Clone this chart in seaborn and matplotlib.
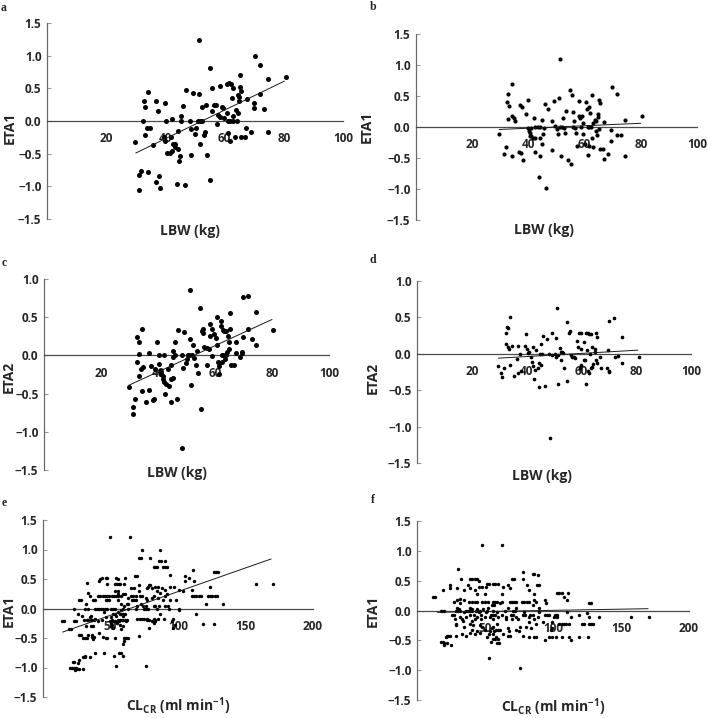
import matplotlib.pyplot as plt
import seaborn as sns
import pandas as pd

# (LBW kg, ETA1) - panel a, base model
a_points = [(29.6,-0.32),(31.2,-0.82),(31.9,-0.77),(31.0,-1.05),(32.8,0.30),(33.0,0.22),(32.5,0.0),(33.2,-0.22),
            (34.1,0.45),(33.7,-0.10),(34.7,-0.10),(34.2,-0.78),(35.8,-0.36),(36.8,0.31),(37.5,0.16),(36.8,-0.93),
            (37.7,-0.84),(38.3,-1.02),(39.8,0.28),(40.2,0.0),(39.4,-0.25),(40.0,-0.30),(40.7,-0.49),(41.6,-0.49),
            (42.1,-0.46),(42.0,-0.25),(42.3,0.03),(42.6,-0.35),(43.2,-0.35),(43.4,-0.40),(44.3,-0.43),(44.7,-0.61),
            (45.0,-0.53),(43.8,-0.97),(44.3,-0.15),(45.4,0.07),(45.4,0.0),(46.0,0.23),(46.9,0.47),(46.6,-0.98),
            (48.3,0.0),(48.6,-0.12),(48.6,-0.52),(49.2,0.43),(49.9,-0.20),(50.4,-0.11),(51.0,0.0),(51.7,0.0),
            (52.4,0.0),(51.3,0.41),(51.5,1.24),(51.6,-0.35),(52.2,0.21),(52.9,-0.22),(53.3,-0.17),(53.6,0.25),
            (54.1,-0.52),(55.0,0.81),(55.1,-0.90),(55.8,0.50),(55.9,0.16),(56.4,0.25),(57.2,0.24),(57.3,-0.05),
            (57.8,0.09),(58.5,0.06),(58.3,0.53),(59.0,0.22),(59.5,0.20),(59.7,0.04),(60.8,0.57),(61.5,0.58),
            (62.1,0.56),(60.9,0.12),(61.0,0.0),(61.9,0.0),(62.7,0.0),(64.1,0.0),(61.1,-0.18),(61.7,-0.30),
            (62.9,0.51),(62.4,0.35),(62.8,0.08),(63.5,-0.24),(63.9,0.17),(64.4,0.13),(64.6,0.40),(64.8,0.36),
            (65.2,0.52),(64.9,0.31),(65.2,0.71),(65.6,0.46),(65.5,-0.24),(66.9,-0.24),(67.2,-0.11),(67.5,0.33),
            (68.9,-0.17),(69.8,0.27),(69.9,0.20),(70.3,1.0),(71.9,0.86),(72.0,0.41),(73.3,0.18),(74.6,0.64),
            (74.6,-0.17),(80.7,0.67)]
a_fit = [(30.0,-0.49),(80.2,0.61)]

# (LBW kg, ETA1) - panel b, final model
b_points = [(29.6,-0.12),(31.2,-0.44),(32.0,-0.33),(32.7,0.53),(32.4,0.40),(33.1,0.34),(32.9,0.13),(34.2,0.69),
            (34.0,0.17),(34.7,0.15),(35.4,0.09),(34.3,-0.46),(36.5,-0.41),(36.9,0.35),(37.6,0.33),(37.5,-0.42),
            (38.2,-0.54),(39.0,0.21),(39.7,0.43),(40.0,-0.01),(40.3,-0.06),(40.6,-0.09),(40.8,-0.02),(40.4,-0.14),
            (41.0,-0.14),(41.6,-0.17),(42.0,0.15),(42.3,-0.17),(42.3,-0.40),(42.5,0.0),(43.4,0.0),(44.0,0.0),
            (43.7,-0.81),(44.2,-0.18),(44.3,-0.47),(44.8,0.11),(45.0,-0.27),(45.2,-0.12),(45.7,-0.01),(46.0,0.37),
            (46.8,0.29),(46.4,-0.99),(48.4,0.10),(48.4,-0.37),(49.0,0.42),(49.6,0.01),(50.0,-0.04),(50.7,-0.11),
            (51.0,0.46),(51.1,0.0),(51.8,0.0),(51.3,1.09),(51.5,-0.46),(52.4,0.15),(52.5,-0.02),(52.9,-0.09),
            (53.4,0.26),(54.1,-0.54),(54.7,0.60),(55.0,-0.59),(55.4,0.51),(55.7,0.25),(55.9,0.0),(56.1,0.09),
            (56.7,-0.02),(57.0,-0.10),(57.3,-0.31),(57.9,0.18),(58.2,0.15),(58.1,0.42),(58.6,0.0),(59.0,0.18),
            (59.3,0.06),(59.6,-0.11),(60.2,-0.27),(60.4,0.41),(60.8,0.29),(61.2,0.0),(61.6,0.0),(62.2,0.0),
            (61.3,-0.45),(61.5,-0.31),(61.7,0.33),(62.0,0.23),(62.6,0.51),(62.6,-0.17),(63.0,-0.33),(63.1,0.06),
            (63.7,0.12),(64.0,0.09),(64.0,-0.06),(64.5,-0.13),(64.9,0.21),(64.9,0.16),(65.2,0.44),(65.4,0.38),
            (65.2,-0.04),(65.4,-0.36),(66.6,-0.35),(66.8,0.08),(66.9,-0.51),(68.5,-0.44),(69.4,-0.05),(69.4,-0.22),
            (69.8,0.64),(71.4,0.53),(71.7,-0.13),(73.0,-0.13),(74.2,0.12),(74.4,-0.46),(80.3,0.17)]
b_fit = [(29.6,-0.04),(80.0,0.06)]

# (LBW kg, ETA2) - panel c, base model
c_points = [(29.8,-0.42),(31.2,-0.77),(31.4,-0.67),(32.1,-0.57),(32.6,-0.08),(32.8,0.24),(33.2,0.17),(33.4,0.02),
            (33.5,-0.27),(34.0,-0.18),(34.3,0.35),(34.5,-0.47),(34.9,-0.15),(35.8,-0.61),(36.9,0.03),(37.0,-0.45),
            (37.7,-0.14),(38.1,-0.59),(38.6,-0.57),(38.9,-0.18),(39.8,0.18),(40.3,0.0),(40.2,-0.11),(40.7,-0.21),
            (41.2,-0.24),(41.6,-0.27),(42.0,0.0),(41.7,-0.31),(42.1,-0.35),(42.5,-0.50),(42.7,-0.38),(43.5,-0.18),
            (44.0,-0.40),(44.5,-0.12),(44.5,-0.61),(44.7,-0.31),(45.3,-0.30),(45.2,0.06),(45.4,-0.02),(45.9,0.0),
            (46.0,0.18),(46.7,-0.57),(47.0,0.33),(48.4,0.0),(48.8,-0.16),(49.0,0.31),(48.5,-1.21),(49.8,-0.10),
            (50.3,-0.05),(51.0,0.0),(50.6,0.01),(51.2,0.21),(51.4,0.86),(51.7,-0.39),(52.1,0.0),(52.4,0.13),
            (52.6,-0.04),(53.2,-0.12),(53.6,0.06),(54.0,-0.23),(54.9,0.62),(55.0,-0.70),(55.4,0.32),(55.8,0.35),
            (55.8,0.29),(56.2,0.11),(57.1,-0.12),(57.1,0.10),(57.8,0.08),(58.2,0.25),(58.2,0.41),(58.9,0.34),
            (59.0,-0.01),(59.6,0.28),(60.2,0.23),(60.8,0.50),(60.8,0.13),(61.0,-0.09),(61.5,-0.10),(61.4,-0.14),
            (61.5,-0.24),(62.0,0.45),(62.0,0.39),(62.4,0.0),(62.9,0.0),(62.6,-0.09),(62.9,0.33),(63.3,0.32),
            (63.4,-0.05),(63.8,0.01),(64.3,0.04),(64.0,0.32),(64.5,0.25),(64.8,0.08),(64.8,0.18),(65.3,0.55),
            (65.3,0.35),(65.5,-0.13),(66.6,-0.12),(67.2,0.03),(67.2,0.17),(68.7,-0.02),(69.4,0.05),(69.5,0.03),
            (69.7,0.24),(69.9,0.76),(71.5,0.78),(71.7,0.34),(73.1,0.22),(74.3,0.57),(74.5,0.14),(80.4,0.33)]
c_fit = [(29.8,-0.39),(80.0,0.47)]

# (LBW kg, ETA2) - panel d, final model
d_points = [(29.7,-0.17),(30.8,-0.27),(31.0,-0.32),(31.9,-0.19),(32.6,0.29),(32.8,0.37),(33.3,0.35),(32.3,0.13),
            (33.2,0.09),(33.6,0.07),(33.8,-0.16),(34.1,0.50),(34.8,0.11),(35.5,-0.31),(36.6,-0.07),(36.8,0.11),
            (37.0,-0.27),(37.6,0.0),(38.0,-0.23),(39.3,0.11),(39.8,0.27),(40.3,0.07),(40.6,0.01),(41.0,0.02),
            (41.6,-0.04),(42.0,-0.11),(42.5,-0.17),(42.4,0.09),(42.7,-0.35),(43.1,-0.22),(43.6,0.05),(44.0,-0.20),
            (44.4,-0.46),(44.8,0.0),(44.6,-0.13),(45.1,0.14),(45.1,-0.15),(45.7,0.0),(46.1,0.24),(46.8,-0.44),
            (47.3,0.20),(48.3,0.0),(48.7,-1.15),(49.2,0.29),(49.4,-0.02),(50.4,0.0),(50.9,-0.04),(51.4,-0.02),
            (50.7,0.22),(51.1,0.63),(51.4,-0.41),(52.1,0.08),(52.4,0.02),(53.0,0.03),(53.4,0.01),(52.4,-0.09),
            (53.6,-0.19),(54.6,0.44),(54.8,-0.37),(55.5,0.28),(55.8,0.31),(56.1,-0.02),(56.7,-0.05),(57.3,-0.05),
            (57.8,-0.06),(58.5,0.18),(59.0,0.28),(59.7,0.28),(58.9,0.10),(59.4,-0.19),(59.9,0.07),(60.0,-0.15),
            (60.8,-0.08),(61.0,0.16),(61.5,0.29),(61.4,-0.08),(61.6,-0.41),(62.0,0.05),(62.4,-0.23),(62.7,-0.27),
            (62.4,0.29),(62.8,0.27),(63.1,0.0),(63.6,0.27),(63.4,-0.19),(64.0,-0.18),(64.0,0.10),(64.4,-0.14),
            (64.9,0.03),(65.1,0.07),(65.2,-0.09),(65.8,-0.12),(65.2,0.29),(65.7,0.23),(66.9,-0.05),(67.3,-0.20),
            (69.3,-0.20),(69.9,-0.23),(69.8,0.05),(70.0,-0.25),(70.2,0.45),(71.8,0.49),(72.1,-0.05),(73.4,-0.03),
            (74.7,0.23),(75.0,-0.13),(81.0,-0.05)]
d_fit = [(29.7,-0.06),(80.6,0.05)]

# (CLcr ml/min, ETA1) - panel e, base model
e_points = [(49.4,1.22),(64.6,1.22),(73.0,1.0),(86.3,1.0),(71.1,0.85),(72.3,0.85),(79.0,0.85),(86.0,0.80),
            (87.5,0.80),(90.6,0.80),(82.0,0.70),(83.0,0.70),(84.3,0.70),(89.0,0.70),(90.6,0.70),(92.0,0.70),
            (111.0,0.66),(127.0,0.62),(128.3,0.62),(129.6,0.62),(94.0,0.57),(68.0,0.55),(69.4,0.55),(105.5,0.55),
            (44.0,0.52),(46.3,0.52),(47.5,0.52),(54.0,0.52),(60.7,0.52),(108.4,0.52),(42.2,0.50),(55.4,0.50),
            (41.4,0.47),(105.5,0.47),(112.0,0.47),(32.5,0.44),(47.7,0.42),(53.0,0.42),(54.5,0.42),(56.0,0.42),
            (57.3,0.42),(60.2,0.42),(157.6,0.42),(170.6,0.42),(71.0,0.40),(78.3,0.40),(79.5,0.40),(85.0,0.37),
            (94.0,0.37),(77.6,0.37),(83.0,0.37),(97.0,0.37),(124.0,0.37),(65.0,0.35),(67.5,0.35),(76.9,0.35),
            (80.7,0.35),(88.0,0.35),(90.4,0.32),(101.0,0.32),(110.4,0.32),(53.0,0.30),(55.4,0.30),(71.0,0.30),
            (84.3,0.30),(103.6,0.30),(33.0,0.27),(86.7,0.27),(55.4,0.25),(59.0,0.25),(61.0,0.25),(91.6,0.25),
            (34.5,0.22),(40.8,0.21),(42.4,0.21),(44.1,0.21),(45.8,0.21),(47.5,0.21),(49.2,0.21),(50.9,0.21),
            (52.5,0.21),(54.2,0.21),(55.9,0.21),(57.6,0.21),(65.0,0.21),(67.0,0.21),(69.0,0.21),(71.5,0.21),
            (73.0,0.21),(82.0,0.21),(90.6,0.21),(110.4,0.21),(112.0,0.21),(113.3,0.21),(115.7,0.21),(117.0,0.21),
            (122.0,0.21),(123.4,0.21),(125.3,0.21),(127.7,0.21),(129.0,0.21),(62.7,0.17),(76.4,0.17),(80.7,0.17),
            (85.5,0.17),(26.5,0.14),(28.0,0.14),(37.1,0.14),(38.6,0.14),(46.3,0.14),(47.6,0.14),(49.0,0.14),
            (55.4,0.14),(65.8,0.14),(67.5,0.14),(69.0,0.14),(77.1,0.14),(89.2,0.14),(94.0,0.14),(98.8,0.14),
            (32.0,0.08),(57.8,0.08),(61.9,0.08),(63.0,0.08),(72.3,0.08),(120.5,0.08),(133.7,0.08),(59.8,0.04),
            (69.4,0.04),(74.2,0.04),(76.4,0.04),(82.0,0.04),(83.0,0.04),(86.0,0.04),(90.0,0.04),(92.8,0.04),
            (23.0,0.0),(31.3,0.0),(33.0,0.0),(38.6,0.0),(40.0,0.0),(41.5,0.0),(43.0,0.0),(44.4,0.0),
            (45.8,0.0),(47.3,0.0),(50.1,0.0),(51.6,0.0),(53.0,0.0),(59.0,0.0),(63.0,0.0),(68.7,0.0),
            (74.7,0.0),(76.1,0.0),(77.6,0.0),(84.8,0.0),(93.0,0.0),(101.0,0.0),(57.8,-0.03),(101.0,-0.03),
            (45.3,-0.06),(55.4,-0.06),(26.0,-0.10),(51.8,-0.10),(53.0,-0.10),(56.9,-0.10),(57.8,-0.10),(59.0,-0.10),
            (60.7,-0.10),(86.3,-0.10),(113.3,-0.10),(28.9,-0.13),(35.7,-0.13),(54.2,-0.13),(59.0,-0.13),(34.7,-0.15),
            (46.3,-0.15),(50.0,-0.15),(38.6,-0.18),(69.9,-0.18),(71.6,-0.18),(73.3,-0.18),(74.7,-0.18),(77.1,-0.18),
            (82.0,-0.18),(85.5,-0.18),(89.9,-0.18),(96.4,-0.18),(30.6,-0.20),(32.3,-0.20),(33.7,-0.20),(35.2,-0.20),
            (36.6,-0.20),(38.1,-0.20),(43.4,-0.20),(51.3,-0.20),(55.4,-0.20),(56.8,-0.20),(58.2,-0.20),(59.6,-0.20),
            (61.0,-0.20),(62.5,-0.20),(77.1,-0.20),(78.8,-0.20),(82.9,-0.20),(14.0,-0.22),(15.4,-0.22),(23.0,-0.22),
            (24.6,-0.22),(41.0,-0.22),(49.4,-0.22),(51.8,-0.22),(53.0,-0.22),(56.6,-0.22),(61.4,-0.22),(80.7,-0.22),
            (83.1,-0.22),(95.2,-0.22),(118.8,-0.27),(127.0,-0.27),(50.1,-0.25),(55.0,-0.25),(82.0,-0.25),(51.0,-0.28),
            (57.3,-0.28),(97.6,-0.28),(31.6,-0.30),(35.2,-0.30),(37.3,-0.30),(50.0,-0.30),(59.0,-0.30),(51.8,-0.33),
            (96.4,-0.33),(78.3,-0.33),(19.3,-0.35),(20.7,-0.35),(57.8,-0.35),(41.4,-0.42),(27.0,-0.45),(28.4,-0.45),
            (33.7,-0.45),(36.6,-0.45),(71.3,-0.47),(36.1,-0.48),(38.1,-0.48),(44.8,-0.48),(29.4,-0.50),(30.8,-0.50),
            (32.3,-0.50),(46.3,-0.50),(47.7,-0.50),(53.7,-0.50),(59.8,-0.50),(61.2,-0.50),(62.7,-0.50),(36.9,-0.52),
            (60.2,-0.55),(59.3,-0.60),(38.6,-0.76),(45.3,-0.76),(56.6,-0.76),(57.8,-0.76),(31.3,-0.80),(52.5,-0.80),
            (59.3,-0.80),(29.6,-0.83),(31.3,-0.83),(34.7,-0.83),(27.0,-0.88),(21.9,-0.90),(23.1,-0.90),(25.9,-0.92),
            (54.2,-0.97),(76.6,-0.97),(20.0,-1.0),(21.2,-1.0),(22.7,-1.0),(24.1,-1.0),(25.3,-1.02),(26.5,-1.02),
            (29.4,-1.02),(24.0,-1.04)]
e_fit = [(14.5,-0.40),(169.0,0.84)]

# (CLcr ml/min, ETA1) - panel f, final model
f_points = [(47.6,1.09),(62.8,1.09),(29.9,0.69),(78.3,0.64),(85.1,0.62),(86.3,0.62),(88.7,0.60),(32.3,0.53),
            (39.1,0.53),(40.6,0.53),(43.0,0.53),(44.4,0.53),(69.6,0.53),(71.0,0.53),(77.8,0.53),(45.9,0.50),
            (51.2,0.44),(52.9,0.44),(56.0,0.44),(57.5,0.44),(59.9,0.44),(23.9,0.42),(37.4,0.42),(67.2,0.42),
            (81.2,0.42),(88.3,0.42),(89.5,0.42),(45.9,0.40),(47.6,0.40),(50.5,0.40),(63.3,0.40),(24.1,0.37),
            (29.4,0.37),(39.1,0.37),(68.2,0.37),(19.3,0.35),(34.3,0.35),(42.5,0.35),(82.7,0.35),(103.0,0.30),
            (104.5,0.30),(106.9,0.30),(110.8,0.30),(43.9,0.27),(49.8,0.27),(62.3,0.27),(86.3,0.27),(12.0,0.22),
            (13.0,0.22),(107.9,0.22),(31.8,0.20),(29.4,0.17),(34.3,0.17),(86.3,0.17),(94.3,0.17),(110.5,0.17),
            (27.5,0.15),(38.6,0.15),(40.1,0.15),(42.5,0.15),(43.9,0.15),(47.6,0.15),(50.0,0.15),(52.4,0.15),
            (56.0,0.15),(57.5,0.15),(59.0,0.15),(62.3,0.15),(68.2,0.15),(69.6,0.15),(71.0,0.15),(72.5,0.15),
            (77.4,0.15),(79.0,0.15),(80.7,0.15),(82.2,0.15),(87.5,0.15),(31.8,0.12),(60.9,0.12),(94.8,0.12),
            (126.8,0.12),(128.2,0.12),(54.8,0.10),(56.5,0.10),(85.1,0.10),(29.4,0.05),(39.1,0.05),(52.4,0.05),
            (67.0,0.05),(73.0,0.05),(90.0,0.05),(30.6,0.02),(40.3,0.02),(43.9,0.02),(48.8,0.02),(17.3,0.0),
            (18.5,0.0),(20.2,0.0),(28.5,0.0),(29.9,0.0),(31.4,0.0),(36.2,0.0),(37.7,0.0),(39.1,0.0),
            (40.6,0.0),(43.5,0.0),(44.9,0.0),(46.4,0.0),(51.2,0.0),(56.0,0.0),(64.5,0.0),(70.6,0.0),
            (72.0,0.0),(34.3,-0.03),(45.4,-0.03),(50.7,-0.03),(58.5,-0.03),(79.0,-0.03),(90.0,-0.03),(110.5,-0.03),
            (125.0,-0.05),(25.8,-0.08),(27.5,-0.08),(39.1,-0.08),(42.0,-0.08),(47.3,-0.08),(54.6,-0.08),(56.0,-0.08),
            (57.5,-0.08),(62.3,-0.08),(69.4,-0.08),(70.8,-0.08),(77.8,-0.08),(79.3,-0.08),(83.4,-0.08),(85.1,-0.08),
            (93.8,-0.08),(95.3,-0.08),(96.7,-0.08),(101.3,-0.08),(102.8,-0.08),(119.0,-0.08),(31.8,-0.11),(35.7,-0.11),
            (43.9,-0.11),(50.0,-0.11),(53.6,-0.11),(59.7,-0.11),(65.7,-0.11),(73.0,-0.11),(82.7,-0.11),(88.7,-0.11),
            (100.6,-0.11),(102.8,-0.11),(113.0,-0.11),(126.3,-0.11),(134.0,-0.11),(157.3,-0.11),(170.8,-0.11),(27.7,-0.15),
            (33.3,-0.15),(42.5,-0.15),(46.9,-0.15),(55.6,-0.15),(65.3,-0.15),(70.1,-0.15),(74.2,-0.15),(86.3,-0.15),
            (33.8,-0.17),(40.3,-0.17),(82.2,-0.20),(92.4,-0.20),(99.6,-0.20),(28.9,-0.22),(39.1,-0.22),(58.5,-0.22),
            (87.5,-0.22),(104.2,-0.22),(106.4,-0.22),(108.1,-0.22),(109.8,-0.22),(111.7,-0.22),(121.4,-0.22),(122.9,-0.22),
            (126.8,-0.22),(128.2,-0.22),(129.7,-0.22),(28.5,-0.25),(41.5,-0.25),(46.4,-0.25),(34.7,-0.27),(47.8,-0.27),
            (56.0,-0.27),(75.4,-0.27),(80.3,-0.27),(54.8,-0.30),(67.0,-0.30),(83.9,-0.30),(99.6,-0.30),(40.3,-0.33),
            (49.8,-0.33),(58.0,-0.33),(59.4,-0.33),(60.9,-0.33),(73.0,-0.33),(98.4,-0.33),(43.9,-0.35),(53.6,-0.35),
            (56.8,-0.35),(67.7,-0.35),(75.0,-0.35),(39.1,-0.37),(46.4,-0.37),(33.3,-0.40),(42.7,-0.40),(52.7,-0.40),
            (55.8,-0.40),(63.3,-0.40),(21.7,-0.42),(23.1,-0.42),(24.6,-0.42),(28.9,-0.42),(36.2,-0.42),(67.0,-0.42),
            (68.6,-0.42),(77.8,-0.42),(21.0,-0.44),(51.2,-0.44),(58.0,-0.44),(82.7,-0.44),(86.1,-0.45),(87.5,-0.45),
            (96.7,-0.45),(99.6,-0.45),(102.0,-0.45),(106.9,-0.45),(111.7,-0.45),(119.0,-0.45),(125.5,-0.45),(56.0,-0.48),
            (57.5,-0.48),(59.7,-0.48),(94.3,-0.50),(113.0,-0.50),(17.3,-0.52),(18.8,-0.52),(54.6,-0.52),(59.0,-0.54),
            (60.4,-0.54),(20.2,-0.55),(21.7,-0.55),(19.7,-0.57),(25.1,-0.57),(52.7,-0.80),(75.4,-0.97)]
f_fit = [(14.9,-0.03),(169.9,0.03)]

lbw_ticks = [20, 40, 60, 80, 100]
clcr_ticks = [50, 100, 150, 200]
eta_ticks_wide = [-1.5, -1.0, -0.5, 0.0, 0.5, 1.0, 1.5]
eta_ticks_narrow = [-1.5, -1.0, -0.5, 0.0, 0.5, 1.0]

sns.set_theme(style="white")
plt.rcParams['font.family'] = ['Open Sans', 'DejaVu Sans']
plt.rcParams['mathtext.fontset'] = 'custom'
plt.rcParams['mathtext.rm'] = 'Open Sans:bold'

W, H = 708, 718
fig = plt.figure(figsize=(W / 100, H / 100), dpi=100)
fig.patch.set_facecolor('white')

clcr_label = r'CL$_{\mathrm{CR}}$ (ml min$^{\mathrm{-1}}$)'

# pixel boxes: left, right, top, bottom ; label positions in axes fraction
panels = [
    dict(tag='a', pts=a_points, fit=a_fit, box=(47, 343, 23, 219), xmax=100, xt=lbw_ticks, yt=eta_ticks_wide,
         xl='LBW (kg)', yl='ETA1', s=13, xlpos=(0.483, -0.025), ylpos=(-0.103, 0.464), tagpos=(4, 8)),
    dict(tag='b', pts=b_points, fit=b_fit, box=(416, 697, 34, 220), xmax=100, xt=lbw_ticks, yt=eta_ticks_wide,
         xl='LBW (kg)', yl='ETA1', s=9, xlpos=(0.455, -0.015), ylpos=(-0.15, 0.5), tagpos=(373, 7)),
    dict(tag='c', pts=c_points, fit=c_fit, box=(44, 329, 279, 470), xmax=100, xt=lbw_ticks, yt=eta_ticks_narrow,
         xl='LBW (kg)', yl='ETA2', s=13, xlpos=(0.467, 0.02), ylpos=(-0.1, 0.487), tagpos=(4, 263)),
    dict(tag='d', pts=d_points, fit=d_fit, box=(417, 691, 281, 463), xmax=100, xt=lbw_ticks, yt=eta_ticks_narrow,
         xl='LBW (kg)', yl='ETA2', s=7, xlpos=(0.456, -0.032), ylpos=(-0.136, 0.47), tagpos=(373, 260)),
    dict(tag='e', pts=e_points, fit=e_fit, box=(43, 313, 520, 697), xmax=200, xt=clcr_ticks, yt=eta_ticks_wide,
         xl=clcr_label, yl='ETA1', s=6, xlpos=(0.5, 0.008), ylpos=(-0.1, 0.486), tagpos=(4, 503)),
    dict(tag='f', pts=f_points, fit=f_fit, box=(417, 689, 521, 700), xmax=200, xt=clcr_ticks, yt=eta_ticks_wide,
         xl=clcr_label, yl='ETA1', s=6, xlpos=(0.5, 0.022), ylpos=(-0.136, 0.5), tagpos=(373, 500)),
]

spine_color = '#4a4a4a'
tick_color = '#9a9a9a'

for p in panels:
    l, r, t, b = p['box']
    ax = fig.add_axes([l / W, 1 - b / H, (r - l) / W, (b - t) / H])
    ax.set_facecolor('none')
    df = pd.DataFrame(p['pts'], columns=['x', 'eta'])
    sns.scatterplot(data=df, x='x', y='eta', ax=ax, color='black', s=p['s'], linewidth=0,
                    zorder=3, clip_on=False, legend=False)
    fit = pd.DataFrame(p['fit'], columns=['x', 'eta'])
    sns.lineplot(data=fit, x='x', y='eta', ax=ax, color='#1a1a1a', linewidth=0.7, zorder=4)

    ax.set_xlim(0, p['xmax'])
    ax.set_ylim(p['yt'][0], p['yt'][-1])
    for side in ['top', 'right']:
        ax.spines[side].set_visible(False)
    ax.spines['bottom'].set_position(('data', 0))
    ax.spines['left'].set_color('#6a6a6a')
    ax.spines['bottom'].set_color(spine_color)
    for side in ['left', 'bottom']:
        ax.spines[side].set_linewidth(0.9)

    ax.set_xticks(p['xt'])
    ax.set_xticklabels([str(v) for v in p['xt']], fontweight='bold', fontsize=8.5)
    ax.set_yticks(p['yt'])
    ax.set_yticklabels([f'{v:.1f}'.replace('-', '\u2212') for v in p['yt']], fontweight='bold', fontsize=8.5)
    ax.tick_params(axis='x', direction='in', length=3, width=0.8, color=tick_color, pad=8)
    ax.tick_params(axis='y', direction='in', length=3, width=0.8, color=tick_color, pad=4, left=True)
    ax.grid(False)

    ax.set_xlabel(p['xl'], fontweight='bold', fontsize=10)
    ax.set_ylabel(p['yl'], fontweight='bold', fontsize=10)
    ax.xaxis.set_label_coords(*p['xlpos'])
    ax.yaxis.set_label_coords(*p['ylpos'])

    tx, ty = p['tagpos']
    fig.text(tx / W, 1 - ty / H, p['tag'], family='Liberation Serif', fontweight='bold',
             fontsize=8.5, ha='center', va='center')

fig.savefig('out.png', dpi=100, facecolor='white')
